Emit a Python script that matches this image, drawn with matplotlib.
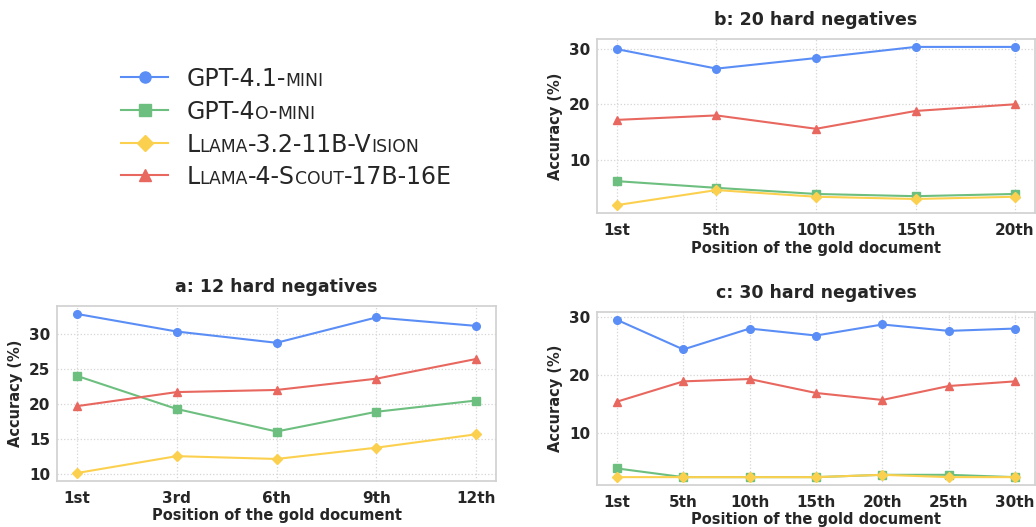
import numpy as np
import matplotlib
matplotlib.use("Agg")
import matplotlib.pyplot as plt
from matplotlib.lines import Line2D
from matplotlib.offsetbox import TextArea, HPacker, DrawingArea, AnchoredOffsetbox

# ------------------------------
# Data (accuracy %)
# ------------------------------
models = ["GPT-4.1-mini", "GPT-4o-mini", "Llama-3.2-11B-Vision", "Llama-4-Scout-17B-16E"]

pos_a = ["1st", "3rd", "6th", "9th", "12th"]
acc_a = {
    "GPT-4.1-mini": [32.8, 30.3, 28.7, 32.3, 31.1],
    "GPT-4o-mini": [24.0, 19.3, 16.1, 18.9, 20.5],
    "Llama-3.2-11B-Vision": [10.2, 12.6, 12.2, 13.8, 15.7],
    "Llama-4-Scout-17B-16E": [19.7, 21.7, 22.0, 23.6, 26.4],
}

pos_b = ["1st", "5th", "10th", "15th", "20th"]
acc_b = {
    "GPT-4.1-mini": [29.9, 26.4, 28.3, 30.3, 30.3],
    "GPT-4o-mini": [6.2, 5.0, 3.9, 3.5, 3.9],
    "Llama-3.2-11B-Vision": [1.9, 4.6, 3.4, 3.0, 3.4],
    "Llama-4-Scout-17B-16E": [17.2, 18.0, 15.6, 18.8, 20.0],
}

pos_c = ["1st", "5th", "10th", "15th", "20th", "25th", "30th"]
acc_c = {
    "GPT-4.1-mini": [29.5, 24.4, 28.0, 26.8, 28.7, 27.6, 28.0],
    "GPT-4o-mini": [3.9, 2.4, 2.4, 2.4, 2.8, 2.8, 2.4],
    "Llama-3.2-11B-Vision": [2.4, 2.4, 2.4, 2.4, 2.8, 2.4, 2.4],
    "Llama-4-Scout-17B-16E": [15.4, 18.9, 19.3, 16.9, 15.7, 18.1, 18.9],
}

colors = {
    "GPT-4.1-mini": "#5a8ef6",
    "GPT-4o-mini": "#6dbf7f",
    "Llama-3.2-11B-Vision": "#fcd04f",
    "Llama-4-Scout-17B-16E": "#e8675f",
}
markers = {
    "GPT-4.1-mini": "o",
    "GPT-4o-mini": "s",
    "Llama-3.2-11B-Vision": "D",
    "Llama-4-Scout-17B-16E": "^",
}

# ------------------------------
# Style
# ------------------------------
plt.rcParams['font.family'] = ['DejaVu Sans']
text_color = "#262626"

fig = plt.figure(figsize=(10.36, 5.27), dpi=100)

def panel(rect, positions, acc, title):
    ax = fig.add_axes(rect)
    x = np.arange(len(positions))
    for m in models:
        ax.plot(x, acc[m], color=colors[m], marker=markers[m], markersize=5.5,
                linewidth=1.5)
    ax.set_xticks(x)
    ax.set_xticklabels(positions)
    ax.set_title(title, fontsize=12.5, fontweight="bold", color=text_color, pad=10)
    ax.set_xlabel("Position of the gold document", fontsize=10.5, fontweight="bold",
                  color=text_color, labelpad=1.5)
    ax.set_ylabel("Accuracy (%)", fontsize=10.5, fontweight="bold", color=text_color)
    ax.grid(True, linestyle=":", color="#d5d5d5", linewidth=0.9)
    ax.set_axisbelow(True)
    for s in ax.spines.values():
        s.set_color("#d0d0d0")
        s.set_linewidth(1.2)
    ax.tick_params(length=0, labelsize=11, colors=text_color, pad=5)
    ax.tick_params(axis="x", pad=7.5)
    for lbl in ax.get_xticklabels() + ax.get_yticklabels():
        lbl.set_fontweight("bold")
    return ax

ax_a = panel([0.055, 0.0873, 0.4238, 0.3321], pos_a, acc_a, "a: 12 hard negatives")
ax_b = panel([0.5763, 0.5958, 0.4227, 0.3302], pos_b, acc_b, "b: 20 hard negatives")
ax_c = panel([0.5763, 0.0797, 0.4227, 0.3283], pos_c, acc_c, "c: 30 hard negatives")
ax_b.set_yticks([10, 20, 30])
ax_c.set_yticks([10, 20, 30])

# ------------------------------
# Legend with small-caps style labels
# ------------------------------
big, small = 17, 12.4

def small_caps(label):
    runs = []
    cur, cur_low = "", None
    for ch in label:
        low = ch.islower()
        if cur_low is None or low == cur_low:
            cur += ch
        else:
            runs.append((cur, cur_low))
            cur = ch
        cur_low = low
    runs.append((cur, cur_low))
    parts = []
    for txt, low in runs:
        size = small if low else big
        parts.append(TextArea(txt.upper(), textprops=dict(fontsize=size, color=text_color)))
    return HPacker(children=parts, sep=0, pad=0, align="baseline")

row_y = [77, 110, 143, 175]
for m, yp in zip(models, row_y):
    da = DrawingArea(34, 14, 0, 3)
    mid = big * 0.729 / 2
    da.add_artist(Line2D([0, 34], [mid, mid], color=colors[m], linewidth=1.5))
    da.add_artist(Line2D([17], [mid], color=colors[m], marker=markers[m], markersize=8))
    row = HPacker(children=[da, small_caps(m)], sep=13, pad=0, align="baseline")
    box = AnchoredOffsetbox(loc="center left", child=row, pad=0, frameon=False,
                            bbox_to_anchor=(121 / 1036, 1 - (yp + 2) / 527),
                            bbox_transform=fig.transFigure, borderpad=0)
    fig.add_artist(box)

fig.savefig("out.png", dpi=100)
